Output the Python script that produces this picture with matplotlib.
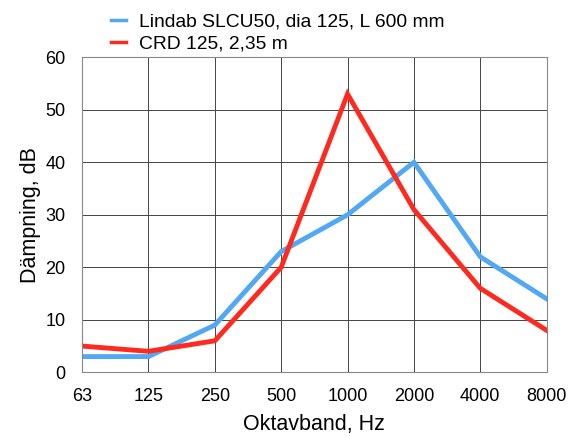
import numpy as np
import matplotlib.pyplot as plt

plt.rcParams['font.family'] = ['Liberation Sans', 'DejaVu Sans']

bands = ["63", "125", "250", "500", "1000", "2000", "4000", "8000"]
lindab = [3, 3, 9, 23, 30, 40, 22, 14]
crd = [5, 4, 6, 20, 53, 31, 16, 8]

fig = plt.figure(figsize=(5.7, 4.37), dpi=100)
ax = fig.add_axes([0.144, 0.148, 0.815, 0.721])

x = np.arange(len(bands))
ax.plot(x, lindab, color="#52A8F2", lw=3.5, label="Lindab SLCU50, dia 125, L 600 mm", solid_joinstyle="miter")
ax.plot(x, crd, color="#FF2A1F", lw=3.5, label="CRD 125, 2,35 m", solid_joinstyle="miter")

ax.set_xlim(0, len(bands) - 1)
ax.set_ylim(0, 60)
ax.set_xticks(x)
ax.set_xticklabels(bands)
ax.set_yticks(range(0, 61, 10))
ax.tick_params(length=0, labelsize=13)
ax.tick_params(axis="x", pad=11)
ax.tick_params(axis="y", pad=12)
ax.grid(True, color="#444444", lw=0.7)
ax.set_axisbelow(True)
for s in ax.spines.values():
    s.set_color("#888888")
    s.set_linewidth(0.8)

ax.set_xlabel("Oktavband, Hz", fontsize=15.5, labelpad=7)
ax.set_ylabel("Dämpning, dB", fontsize=15.5, labelpad=3)

leg = fig.legend(loc="upper left", bbox_to_anchor=(0.165, 1.01), frameon=False,
                 fontsize=13.9, handlelength=0.75, handletextpad=0.7, labelspacing=0.25)
for line in leg.get_lines():
    line.set_linewidth(2.5)

fig.savefig("out.png", dpi=100)
